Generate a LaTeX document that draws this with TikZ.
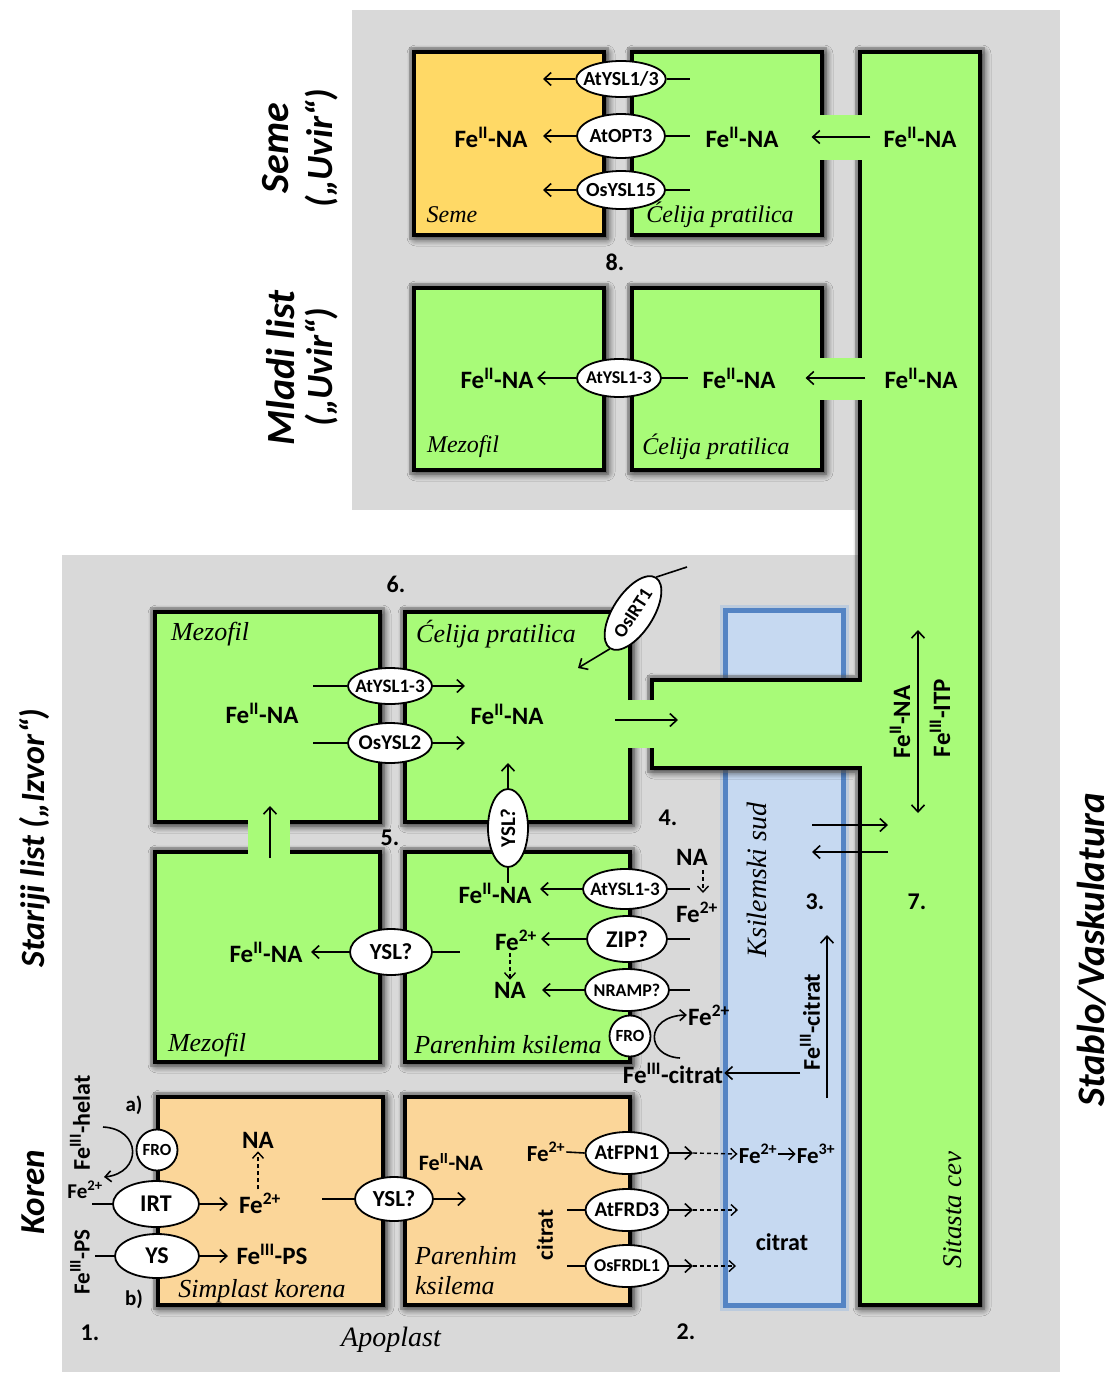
\documentclass[tikz,border=0pt]{standalone}
\usepackage{fontspec}
\setmainfont{Carlito}
\newfontfamily\serifit{Liberation Serif}
\usetikzlibrary{arrows.meta,shapes.geometric,shadows.blur}
\definecolor{panel}{RGB}{217,217,217}
\definecolor{leaf}{RGB}{168,251,120}
\definecolor{seed}{RGB}{255,217,102}
\definecolor{rootc}{RGB}{251,214,153}
\definecolor{xyl}{RGB}{198,217,241}
\definecolor{xylb}{RGB}{84,132,196}
\newcommand{\fsz}[1]{\fontsize{#1}{#1}\selectfont}
\newcommand{\feNA}{Fe\textsuperscript{II}-NA}
\newcommand{\feT}{Fe\textsuperscript{2+}}
\newcommand{\feD}{Fe\textsuperscript{3+}}
\newcommand{\feIII}{Fe\textsuperscript{III}}
\tikzset{
  wall/.style={line width=4pt, line join=miter},
  shad/.style={blur shadow={shadow xshift=2pt, shadow yshift=-2pt, shadow blur radius=9pt, shadow blur steps=10, shadow opacity=95},
               preaction={draw=black!60, line width=10pt, opacity=0.45}},
  tr/.style={ellipse, draw, fill=white, line width=1.8pt, inner xsep=-6pt, inner ysep=0pt},
  fro/.style={circle, draw, fill=white, line width=1.8pt, inner sep=0pt, minimum size=41pt, font=\bfseries\fsz{17}},
  fe/.style={font=\bfseries\fsz{25}, inner sep=1pt},
  lab/.style={font=\serifit\itshape\fsz{24}, inner sep=0pt},
  labb/.style={font=\serifit\itshape\fsz{26}, inner sep=0pt},
  num/.style={font=\bfseries\fsz{24}},
  big/.style={font=\bfseries\itshape\fsz{#1}, rotate=90, inner sep=0pt},
  arr/.style={line width=1.6pt, -{Straight Barb[length=7pt,width=13pt]}},
  ln/.style={line width=1.6pt},
  dsh/.style={line width=1.4pt, dash pattern=on 4pt off 3pt, -{Straight Barb[length=6pt,width=11pt]}},
}
\begin{document}
\begin{tikzpicture}[x=1pt,y=-1pt]
\useasboundingbox (0,0) rectangle (1112,1374);
% panels
\fill[panel] (352,10) rectangle (1060,510);
\fill[panel] (62,555) rectangle (1060,1372);
\fill[panel] (860,500) rectangle (1060,560);
% xylem vessel
\draw[xylb!50, line width=11pt, opacity=0.6] (725,610) rectangle (843,1305);
\draw[xylb, line width=5pt, fill=xyl] (725,610) rectangle (843,1305);
% phloem
\fill[leaf, shad] (860,52) -- (980,52) -- (980,1305) -- (860,1305) -- (860,768) -- (652,768) -- (652,680) -- (860,680) -- cycle;
% cell fills
\fill[seed, shad] (414,52) rectangle (604,235);
\fill[leaf, shad] (632,52) rectangle (822,235);
\fill[leaf, shad] (414,288) rectangle (604,470);
\fill[leaf, shad] (632,288) rectangle (822,470);
\fill[leaf, shad] (155,612) rectangle (380,822);
\fill[leaf, shad] (405,612) rectangle (630,822);
\fill[leaf, shad] (155,852) rectangle (380,1062);
\fill[leaf, shad] (405,852) rectangle (630,1062);
\fill[rootc, shad] (158,1097) rectangle (383,1305);
\fill[rootc, shad] (405,1097) rectangle (630,1305);
% channels
\fill[leaf] (816,115) rectangle (866,160);
\fill[leaf] (816,358) rectangle (866,400);
\fill[leaf] (624,700) rectangle (658,748);
\fill[leaf] (248,816) rectangle (290,858);
% walls
\draw[wall] (414,52) rectangle (604,235);
\draw[wall] (822,115) -- (822,52) -- (632,52) -- (632,235) -- (822,235) -- (822,160);
\draw[wall] (414,288) rectangle (604,470);
\draw[wall] (822,358) -- (822,288) -- (632,288) -- (632,470) -- (822,470) -- (822,400);
\draw[wall] (860,115) -- (860,52) -- (980,52) -- (980,1305) -- (860,1305) -- (860,768) -- (652,768) -- (652,748);
\draw[wall] (652,700) -- (652,680) -- (860,680) -- (860,400);
\draw[wall] (860,358) -- (860,160);
\draw[wall] (248,822) -- (155,822) -- (155,612) -- (380,612) -- (380,822) -- (290,822);
\draw[wall] (630,700) -- (630,612) -- (405,612) -- (405,822) -- (630,822) -- (630,748);
\draw[wall] (248,852) -- (155,852) -- (155,1062) -- (380,1062) -- (380,852) -- (290,852);
\draw[wall] (405,852) rectangle (630,1062);
\draw[wall] (158,1097) rectangle (383,1305);
\draw[wall] (405,1097) rectangle (630,1305);

% ---------- side labels
\node[big=40] (lSeme) at (276,148) {Seme};
\node[big=37] (lU1) at (322,148) {(„Uvir“)};
\node[big=40] (lMl) at (281,368) {Mladi list};
\node[big=37] (lU2) at (322,367) {(„Uvir“)};
\node[big=34] (lSt) at (35,838) {Stariji list („Izvor“)};
\node[big=35] (lKo) at (33,1192) {Koren};
\node[big=39] (lSV) at (1092,950) {Stablo/Vaskulatura};

% ---------- Seme section
\node[fe] (sFe) at (491,137) {\feNA};
\node[tr, minimum width=88pt, minimum height=36pt, font=\bfseries\fsz{20}] (sY13) at (621,79) {AtYSL1/3};
\node[tr, minimum width=88pt, minimum height=44pt, font=\bfseries\fsz{20}] (sOPT) at (621,136) {AtOPT3};
\node[tr, minimum width=88pt, minimum height=38pt, font=\bfseries\fsz{20}] (sY15) at (621,190) {OsYSL15};
\node[fe] (pFe1) at (742,137) {\feNA};
\node[fe] (fFe1) at (920,137) {\feNA};
\node[lab] (sCap) at (452,215) {Seme};
\node[lab] (pCap1) at (720,215) {Ćelija pratilica};
\node[num] (n8) at (615,262) {8.};
\coordinate (sA1) at (543,79); \coordinate (sA2) at (543,136); \coordinate (sA3) at (543,190);
\coordinate (sB1) at (690,79); \coordinate (sB2) at (690,136); \coordinate (sB3) at (690,190);
\draw[arr] (sY13.west) -- (sA1);
\draw[arr] (sOPT.west) -- (sA2);
\draw[arr] (sY15.west) -- (sA3);
\draw[ln] (sY13.east) -- (sB1);
\draw[ln] (sOPT.east) -- (sB2);
\draw[ln] (sY15.east) -- (sB3);
\draw[arr, shorten <=12pt, shorten >=32pt] (fFe1.west) -- (pFe1.east);

% ---------- Mladi list
\node[fe] (mFe1) at (497,378) {\feNA};
\node[tr, minimum width=84pt, minimum height=38pt, font=\bfseries\fsz{18}] (mY) at (619,378) {AtYSL1-3};
\node[fe] (mFe2) at (739,378) {\feNA};
\node[fe] (fFe2) at (921,378) {\feNA};
\node[lab] (mCap1) at (463,447) {Mezofil};
\node[lab] (mCap2) at (716,447) {Ćelija pratilica};
\coordinate (mA) at (537,378); \coordinate (mB) at (688,378);
\draw[arr] (mY.west) -- (mA);
\draw[ln] (mY.east) -- (mB);
\draw[arr, shorten <=18pt, shorten >=29pt] (fFe2.west) -- (mFe2.east);

% ---------- Stariji list, upper row
\node[num] (n6) at (396,584) {6.};
\node[labb] (oCap1) at (210,634) {Mezofil};
\node[labb] (oCap2) at (496,634) {Ćelija pratilica};
\node[fe] (oFe1) at (262,713) {\feNA};
\node[fe] (oFe2) at (507,714) {\feNA};
\node[tr, minimum width=84pt, minimum height=36pt, font=\bfseries\fsz{19}] (oY13) at (390,686) {AtYSL1-3};
\node[tr, minimum width=84pt, minimum height=40pt, font=\bfseries\fsz{21}] (oY2) at (390,743) {OsYSL2};
\coordinate (oL1) at (313,686); \coordinate (oR1) at (465,686);
\coordinate (oL2) at (313,743); \coordinate (oR2) at (465,743);
\draw[ln] (oL1) -- (oY13.west); \draw[arr] (oY13.east) -- (oR1);
\draw[ln] (oL2) -- (oY2.west); \draw[arr] (oY2.east) -- (oR2);
\node[tr, minimum width=84pt, minimum height=40pt, rotate=57, font=\bfseries\fsz{19}] (irt) at (633,613) {OsIRT1};
\coordinate (irtO) at (687,567); \coordinate (irtI) at (578,668);
\draw[ln] (irt.east) -- (irtO);
\draw[arr] (irt.west) -- (irtI);
\coordinate (brA) at (615,720); \coordinate (brB) at (678,720);
\draw[arr] (brA) -- (brB);
\node[tr, rotate=90, minimum width=78pt, minimum height=40pt, font=\bfseries\fsz{21}] (ysl5) at (508,828) {YSL?};
\coordinate (y5t) at (508,763); \coordinate (y5b) at (508,883);
\draw[arr] (ysl5.east) -- (y5t);
\draw[ln] (ysl5.west) -- (y5b);
\coordinate (chB) at (270,858); \coordinate (chT) at (270,806);
\draw[arr] (chB) -- (chT);
\node[num] (n5) at (390,838) {5.};
\node[num] (n4) at (668,818) {4.};

% ---------- Stariji list, lower row
\node[fe] (oFe3) at (266,952) {\feNA};
\node[tr, minimum width=82pt, minimum height=46pt, font=\bfseries\fsz{23}] (yslM) at (391,952) {YSL?};
\coordinate (ymA) at (311,952); \coordinate (ymB) at (460,952);
\draw[arr] (yslM.west) -- (ymA);
\draw[ln] (yslM.east) -- (ymB);
\node[fe] (oFe4) at (495,893) {\feNA};
\node[tr, minimum width=84pt, minimum height=40pt, font=\bfseries\fsz{19}] (pY13) at (625,889) {AtYSL1-3};
\coordinate (pyA) at (540,889); \coordinate (pyB) at (690,889);
\draw[arr] (pY13.west) -- (pyA);
\draw[ln] (pY13.east) -- (pyB);
\node[fe] (na1) at (692,857) {NA};
\node[fe] (fe2a) at (697,912) {\feT};
\coordinate (dn1) at (703,870); \coordinate (dn2) at (703,893);
\draw[dsh] (dn1) -- (dn2);
\node[tr, minimum width=80pt, minimum height=46pt, font=\bfseries\fsz{24}] (zip) at (627,939) {ZIP?};
\node[fe] (fe2b) at (516,940) {\feT};
\coordinate (zA) at (541,939); \coordinate (zB) at (690,939);
\draw[arr] (zip.west) -- (zA);
\draw[ln] (zip.east) -- (zB);
\node[tr, minimum width=84pt, minimum height=42pt, font=\bfseries\fsz{18}] (nramp) at (627,990) {NRAMP?};
\node[fe] (na2) at (510,990) {NA};
\coordinate (nA) at (542,990); \coordinate (nB) at (690,990);
\draw[arr] (nramp.west) -- (nA);
\draw[ln] (nramp.east) -- (nB);
\draw[dsh, shorten <=1pt, shorten >=1pt] (fe2b.south -| na2.north) -- (na2.north);
\node[fro] (fro1) at (630,1036) {FRO};
\node[fe] (fe2c) at (709,1015) {\feT};
\coordinate (fcS) at (680,1058);
\draw[ln, -{Straight Barb[length=6pt,width=11pt]}] (fcS) .. controls (645,1056) and (645,1016) .. (fe2c.west);
\node[fe] (feCit) at (673,1073) {\feIII-citrat};
\coordinate (fcA) at (800,1073);
\draw[arr] (fcA) -- (feCit.east);
\node[labb] (oCap3) at (207,1045) {Mezofil};
\node[labb] (oCap4) at (508,1045) {Parenhim ksilema};

% ---------- xylem texts
\node[lab, rotate=90, font=\serifit\itshape\fsz{28}] (ksil) at (757,880) {Ksilemski sud};
\node[num] (n3) at (815,902) {3.};
\node[fe, rotate=90, font=\bfseries\fsz{24}] (citV) at (810,1022) {\feIII-citrat};
\coordinate (cuA) at (827,1098); \coordinate (cuB) at (827,935);
\draw[arr] (cuA) -- (cuB);
\coordinate (xr1) at (812,825); \coordinate (xr2) at (888,825);
\coordinate (xl1) at (888,852); \coordinate (xl2) at (812,852);
\draw[arr] (xr1) -- (xr2);
\draw[arr] (xl1) -- (xl2);

% ---------- phloem texts
\node[fe, rotate=90, font=\bfseries\fsz{25}] (phNA) at (900,722) {\feNA};
\node[fe, rotate=90, font=\bfseries\fsz{25}] (phITP) at (940,718) {\feIII-ITP};
\coordinate (dA) at (918,630); \coordinate (dB) at (918,813);
\draw[line width=1.6pt, {Straight Barb[length=7pt,width=13pt]}-{Straight Barb[length=7pt,width=13pt]}] (dA) -- (dB);
\node[num] (n7) at (917,902) {7.};
\node[lab, rotate=90, font=\serifit\itshape\fsz{27}] (sit) at (953,1210) {Sitasta cev};

% ---------- root
\node[fe, rotate=90, font=\bfseries\fsz{24}] (helat) at (80,1123) {\feIII-helat};
\node[fe, font=\bfseries\fsz{21}] (la) at (134,1105) {a)};
\node[fro] (fro2) at (157,1150) {FRO};
\node[fe, font=\bfseries\fsz{21}] (rfe1) at (85,1190) {\feT};
\coordinate (rcS) at (103,1127); \coordinate (rcE) at (104,1177);
\draw[ln, -{Straight Barb[length=6pt,width=11pt]}] (rcS) .. controls (142,1129) and (142,1173) .. (rcE);
\node[tr, minimum width=86pt, minimum height=46pt, font=\bfseries\fsz{24}] (irt2) at (156,1204) {IRT};
\coordinate (iA) at (92,1204); \coordinate (iB) at (228,1204);
\draw[ln] (iA) -- (irt2.west); \draw[arr] (irt2.east) -- (iB);
\node[fe] (rfe2) at (260,1203) {\feT};
\node[fe] (rna) at (258,1140) {NA};
\draw[dsh, shorten <=2pt, shorten >=2pt] (rfe2.north -| rna.south) -- (rna.south);
\node[tr, minimum width=84pt, minimum height=44pt, font=\bfseries\fsz{24}] (ys) at (157,1256) {YS};
\coordinate (yA) at (95,1256); \coordinate (yB) at (228,1256);
\draw[ln] (yA) -- (ys.west); \draw[arr] (ys.east) -- (yB);
\node[fe] (fePS) at (272,1254) {\feIII-PS};
\node[fe, rotate=90, font=\bfseries\fsz{23}] (psV) at (80,1262) {\feIII-PS};
\node[fe, font=\bfseries\fsz{21}] (lb) at (134,1299) {b)};
\node[labb] (simp) at (262,1291) {Simplast korena};
\node[tr, minimum width=78pt, minimum height=44pt, font=\bfseries\fsz{23}] (ysl6) at (394,1199) {YSL?};
\coordinate (y6A) at (322,1199); \coordinate (y6B) at (466,1199);
\draw[ln] (y6A) -- (ysl6.west); \draw[arr] (ysl6.east) -- (y6B);
\node[fe, font=\bfseries\fsz{22}] (rFeNA) at (451,1162) {\feNA};
\node[labb, anchor=west] (par1) at (415,1256) {Parenhim};
\node[labb, anchor=west] (par2) at (415,1286) {ksilema};
\node[fe, rotate=90, font=\bfseries\fsz{23}] (citR) at (545,1235) {citrat};
\node[fe, font=\bfseries\fsz{23}] (rfe3) at (546,1152) {\feT};
\node[tr, minimum width=83pt, minimum height=42pt, font=\bfseries\fsz{21}] (fpn) at (627,1153) {AtFPN1};
\node[tr, minimum width=83pt, minimum height=42pt, font=\bfseries\fsz{21}] (frd3) at (627,1210) {AtFRD3};
\node[tr, minimum width=83pt, minimum height=42pt, font=\bfseries\fsz{18}] (frdl) at (627,1266) {OsFRDL1};
\node[fe, font=\bfseries\fsz{23}] (fx2) at (758,1154) {\feT};
\node[fe, font=\bfseries\fsz{23}] (fx3) at (816,1154) {\feD};
\draw[line width=1.4pt, -{Straight Barb[length=6pt,width=12pt]}] (fx2.east) -- (fx3.west);
\draw[ln] (rfe3.east) -- (fpn.west);
\coordinate (f1a) at (693,1153);
\draw[arr] (fpn.east) -- (f1a);
\draw[dsh] (f1a) -- (fx2.west);
\coordinate (f2l) at (567,1210); \coordinate (f2a) at (693,1210); \coordinate (f2b) at (738,1210);
\draw[ln] (f2l) -- (frd3.west); \draw[arr] (frd3.east) -- (f2a); \draw[dsh] (f2a) -- (f2b);
\coordinate (f3l) at (567,1266); \coordinate (f3a) at (693,1266); \coordinate (f3b) at (736,1266);
\draw[ln] (f3l) -- (frdl.west); \draw[arr] (frdl.east) -- (f3a); \draw[dsh] (f3a) -- (f3b);
\node[fe, font=\bfseries\fsz{24}] (citX) at (782,1242) {citrat};
\node[num] (n1) at (90,1333) {1.};
\node[num] (n2) at (686,1332) {2.};
\node[lab, font=\serifit\itshape\fsz{28}] (apo) at (391,1340) {Apoplast};
\end{tikzpicture}
\end{document}
